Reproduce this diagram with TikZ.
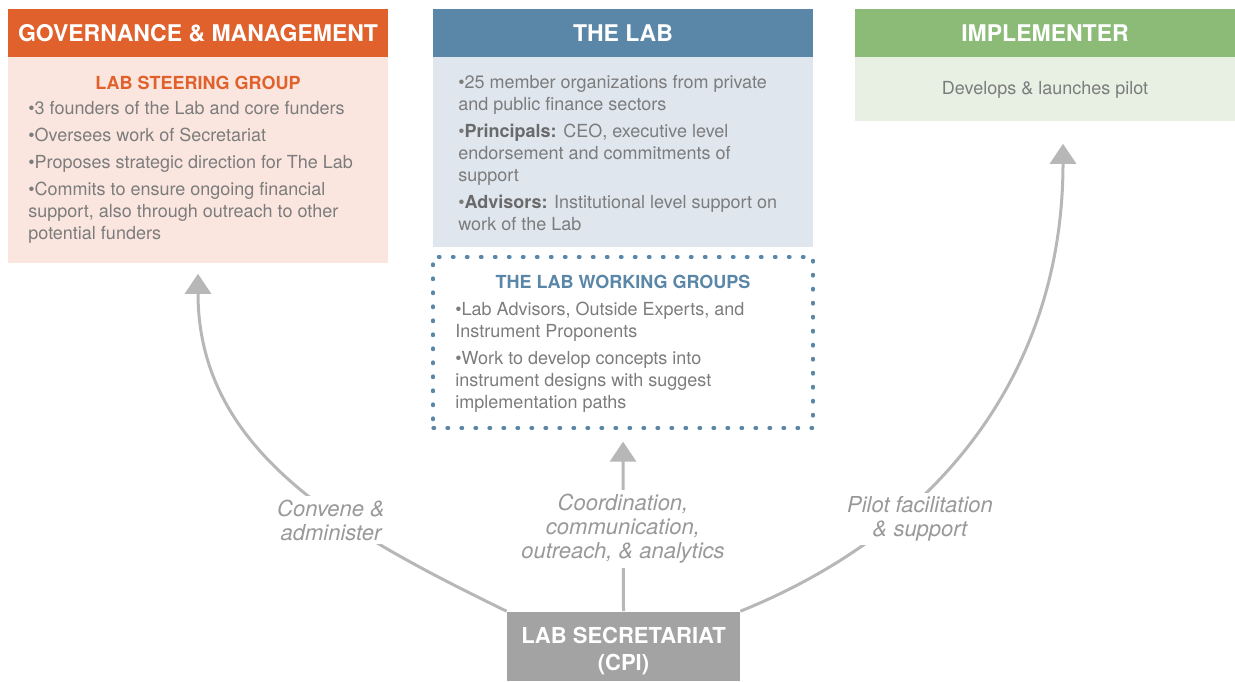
\documentclass[tikz,border=0pt]{standalone}
\usepackage{fontspec}
\setmainfont{TeX Gyre Heros}
\usetikzlibrary{arrows.meta,calc}
\definecolor{govorange}{HTML}{E0612C}
\definecolor{govpale}{HTML}{FBE6DF}
\definecolor{labblue}{HTML}{5A86A8}
\definecolor{labpale}{HTML}{DFE6EE}
\definecolor{impgreen}{HTML}{8BBB77}
\definecolor{imppale}{HTML}{E7F0E2}
\definecolor{secgray}{HTML}{A3A3A3}
\definecolor{txtgray}{HTML}{7C7C7C}
\definecolor{keygray}{HTML}{6A6A6A}
\definecolor{labelgray}{HTML}{999999}
\definecolor{arrowgray}{HTML}{B7B7B7}
\newcommand\labkey[1]{\textcolor{keygray}{\bfseries #1}}
\begin{document}
\begin{tikzpicture}[x=0.5pt,y=0.5pt,
	head/.style={fill=#1, text=white, minimum width=190pt, minimum height=24pt, inner sep=0pt, font=\fontsize{11.5}{13}\selectfont\bfseries},
	bodybox/.style={fill=#1, minimum width=190pt, inner sep=0pt, anchor=north},
	bodytext/.style={anchor=north west, inner sep=0pt, align=left, text=txtgray, font=\fontsize{9}{11}\selectfont},
	subtitle/.style={text=#1, inner sep=0pt, font=\fontsize{9}{11}\selectfont\bfseries},
	flow/.style={draw=arrowgray, line width=1.5pt, -{Triangle[width=13pt,length=10pt]}},
	flowlabel/.style={fill=white, inner sep=2pt, align=center, text=labelgray, font=\fontsize{11}{12}\selectfont\itshape}]
	\useasboundingbox (0,0) rectangle (1235,681);
	% three columns
	\foreach \n/\x/\h/\c/\p/\t in {gm/198/103/govorange/govpale/GOVERNANCE \& MANAGEMENT,
	                               lab/623/95/labblue/labpale/THE LAB,
	                               imp/1045/32/impgreen/imppale/IMPLEMENTER}
	  {
	    \node[bodybox=\p, minimum height=\h pt] (\n-body) at (\x,624) {};
	    \node[head=\c] (\n-head) at (\x,648) {\t};
	  }
	\node[subtitle=govorange] (gm-title) at (198,598) {LAB STEERING GROUP};
	\node[bodytext] (gm-text) at (28,580) {\textbullet 3 founders of the Lab and core funders\\[2.5pt]
	  \textbullet Oversees work of Secretariat\\[2.5pt]
	  \textbullet Proposes strategic direction for The Lab\\[2.5pt]
	  \textbullet Commits to ensure ongoing financial\\support, also through outreach to other\\potential funders};
	\node[bodytext] (lab-text) at (458,606.5) {\textbullet 25 member organizations from private\\and public finance sectors\\[2.5pt]
	  \textbullet\labkey{Principals:} CEO, executive level\\endorsement and commitments of\\support\\[2.5pt]
	  \textbullet\labkey{Advisors:} Institutional level support on\\work of the Lab};
	\node[bodytext, anchor=center] (imp-text) at (1045,591) {Develops \& launches pilot};
	% working groups
	\node[draw=labblue, line width=1.6pt, line cap=round, dash pattern=on 0.8pt off 6.2pt,
	      minimum width=190pt, minimum height=85.5pt, inner sep=0pt] (wg) at (623,338.5) {};
	\node[subtitle=labblue] (wg-title) at (623,399) {THE LAB WORKING GROUPS};
	\node[bodytext] (wg-text) at (455,379.5) {\textbullet Lab Advisors, Outside Experts, and\\Instrument Proponents\\[2.5pt]
	  \textbullet Work to develop concepts into\\instrument designs with suggest\\implementation paths};
	% secretariat
	\node[fill=secgray, minimum width=116.5pt, minimum height=34.5pt, inner sep=0pt, anchor=south,
	      text=white, align=center, font=\fontsize{11}{13.5}\selectfont\bfseries] (sec) at (623.5,0) {\rule{0pt}{13pt}LAB SECRETARIAT\\(CPI)};
	\draw[flow] (sec.north west) to[out=154,in=-90] ($(gm-body.south)+(0,-10)$);
	\draw[flow] (sec.north) -- ($(wg.south)+(0,-12)$);
	\draw[flow] (sec.north east) to[out=22,in=-90] ($(imp-body.south)+(18,-22)$);
	\node[flowlabel] (convene) at (331,161) {Convene \&\\administer};
	\node[flowlabel] (coord) at (623,152) {Coordination,\\communication,\\outreach, \& analytics};
	\node[flowlabel] (pilot) at (920,162) {Pilot facilitation\\\& support};
\end{tikzpicture}
\end{document}
